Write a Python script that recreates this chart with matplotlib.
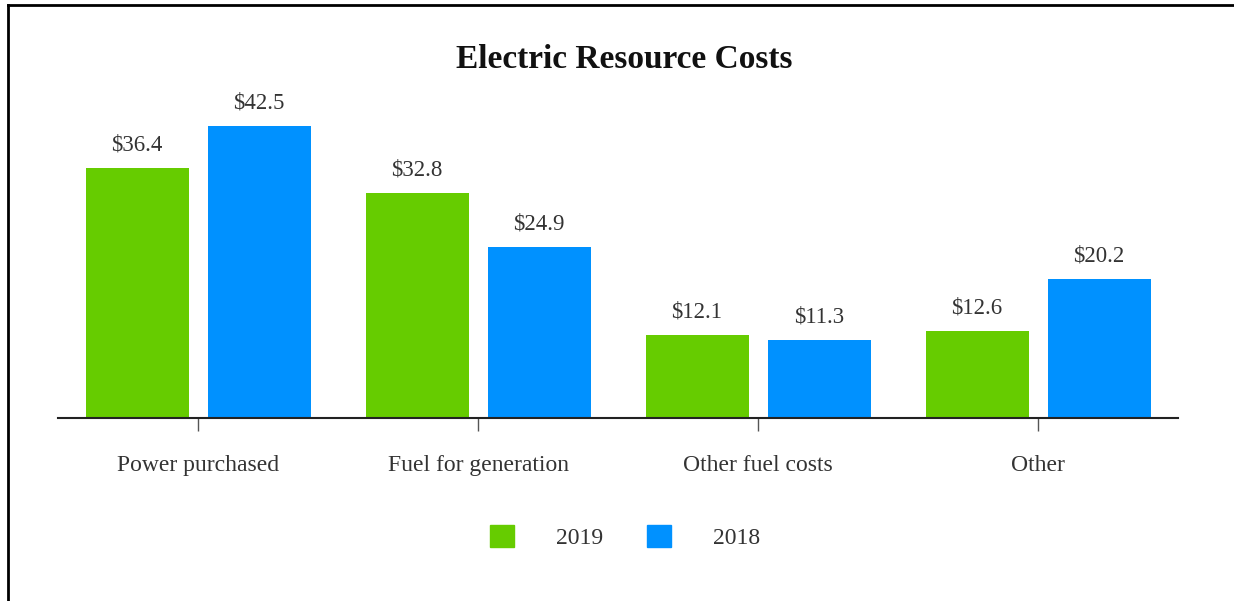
import matplotlib
matplotlib.use("Agg")
import matplotlib.pyplot as plt
import numpy as np
from matplotlib.lines import Line2D
from matplotlib.patches import Patch

categories = ["Power purchased", "Fuel for generation", "Other fuel costs", "Other"]
series_names = ["2019", "2018"]
values_2019 = [36.4, 32.8, 12.1, 12.6]
values_2018 = [42.5, 24.9, 11.3, 20.2]
colors = ["#66CC00", "#0091FF"]
title = "Electric Resource Costs"

plt.rcParams['font.family'] = ['Liberation Serif', 'DejaVu Serif']
W, H = 1234, 601
fig = plt.figure(figsize=(W/100, H/100), dpi=100)

ax_left, ax_right = 58, 1178
ax_base, ax_top = 418, 80
ax = fig.add_axes([ax_left/W, (H-ax_base)/H, (ax_right-ax_left)/W, (ax_base-ax_top)/H])

x = np.arange(len(categories))
bw = 103/280
gap = 19/280
off = (bw + gap)/2
b1 = ax.bar(x - off, values_2019, bw, color=colors[0], label=series_names[0])
b2 = ax.bar(x + off, values_2018, bw, color=colors[1], label=series_names[1])
for bars, vals in ((b1, values_2019), (b2, values_2018)):
    for r, v in zip(bars, vals):
        ax.annotate(f"${v:.1f}", (r.get_x()+r.get_width()/2, v), xytext=(0, 9),
                    textcoords="offset points", ha="center", va="bottom",
                    fontsize=16.5, color="#333333")

ax.set_xlim(-0.5, len(categories)-0.5)
ax.set_ylim(0, (ax_base-ax_top)/6.87)
ax.set_xticks(x)
ax.set_xticklabels(categories, fontsize=17, color="#333333")
ax.tick_params(axis='x', length=9, width=1, color="#555555", pad=17.5)
ax.set_yticks([])
for s in ("top", "right", "left"):
    ax.spines[s].set_visible(False)
ax.spines["bottom"].set_linewidth(1.5)
ax.spines["bottom"].set_color("#222222")

fig.text(624/W, 1-60/H, title, ha="center", va="center", fontsize=24, fontweight="bold", color="#111111")

handles = [Patch(color=c, label=n) for c, n in zip(colors, series_names)]
fig.legend(handles=handles, loc="center", bbox_to_anchor=(625/W, 1-537/H), ncol=2,
           frameon=False, fontsize=17, handlelength=1.02, handleheight=1.02,
           handletextpad=1.78, columnspacing=1.86, labelcolor="#333333")

# frame lines (top and left)
fig.add_artist(Line2D([8/W, 8/W], [0, 1-5/H], transform=fig.transFigure, color="black", lw=2))
fig.add_artist(Line2D([8/W, 1], [1-5/H, 1-5/H], transform=fig.transFigure, color="black", lw=2))

fig.savefig("out.png", dpi=100)
